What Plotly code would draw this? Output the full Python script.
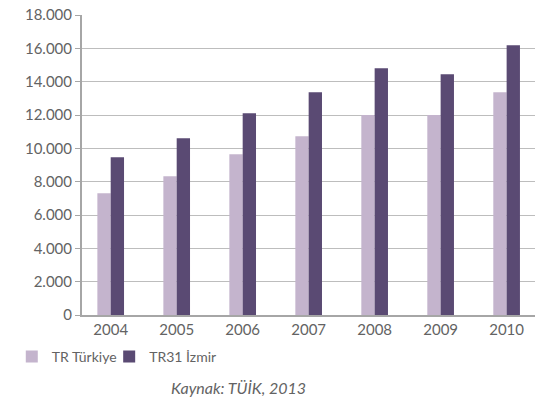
import plotly.graph_objects as go

years = ["2004", "2005", "2006", "2007", "2008", "2009", "2010"]
turkiye = [7310, 8330, 9650, 10730, 12000, 12000, 13370]
izmir = [9470, 10610, 12110, 13370, 14800, 14450, 16180]
y_ticks = [0, 2000, 4000, 6000, 8000, 10000, 12000, 14000, 16000, 18000]

fig = go.Figure()
fig.add_trace(go.Bar(x=years, y=turkiye, name="TR Türkiye", marker_color="#c4b4cd",
                     marker_line_width=0, legend="legend"))
fig.add_trace(go.Bar(x=years, y=izmir, name="TR31 İzmir", marker_color="#5a4a73",
                     marker_line_width=0, legend="legend2"))

leg_common = dict(orientation="h", xanchor="left", y=-0.14, yanchor="middle",
                  font=dict(size=14, color="#636363"), itemwidth=30, bgcolor="rgba(0,0,0,0)")

fig.update_layout(
    width=535, height=398,
    margin=dict(l=82, r=0, t=15, b=83, autoexpand=False),
    paper_bgcolor="white", plot_bgcolor="white",
    barmode="group", bargap=0.596, bargroupgap=0,
    separators=",.",
    font=dict(family="Lato, 'Open Sans', sans-serif", size=15, color="#636363"),
    legend=dict(x=-0.155, **leg_common),
    legend2=dict(x=0.06, **leg_common),
    showlegend=True,
)
fig.update_xaxes(range=[-0.435, 6.43], showgrid=False, showline=True, linecolor="#a6a6a6",
                 linewidth=2, ticks="", tickfont=dict(size=15, color="#636363"))
fig.update_yaxes(range=[0, 18000], tickvals=y_ticks, tickformat=",d", showgrid=True,
                 gridcolor="#bdbdbd", gridwidth=1.3, showline=True, linecolor="#a6a6a6",
                 linewidth=2, ticks="outside", ticklen=5, tickcolor="#a6a6a6",
                 tickfont=dict(size=15, color="#636363"), zeroline=False)

fig.add_annotation(text="<i>Kaynak: TÜİK, 2013</i>", xref="paper", yref="paper",
                   x=(238 - 82) / 453, y=-0.243, xanchor="center", yanchor="middle",
                   showarrow=False, font=dict(size=16, color="#636363"))

fig.write_html("out.html", config={"displayModeBar": False},
               post_script="document.body.style.margin='0px';document.body.style.overflow='hidden';")
